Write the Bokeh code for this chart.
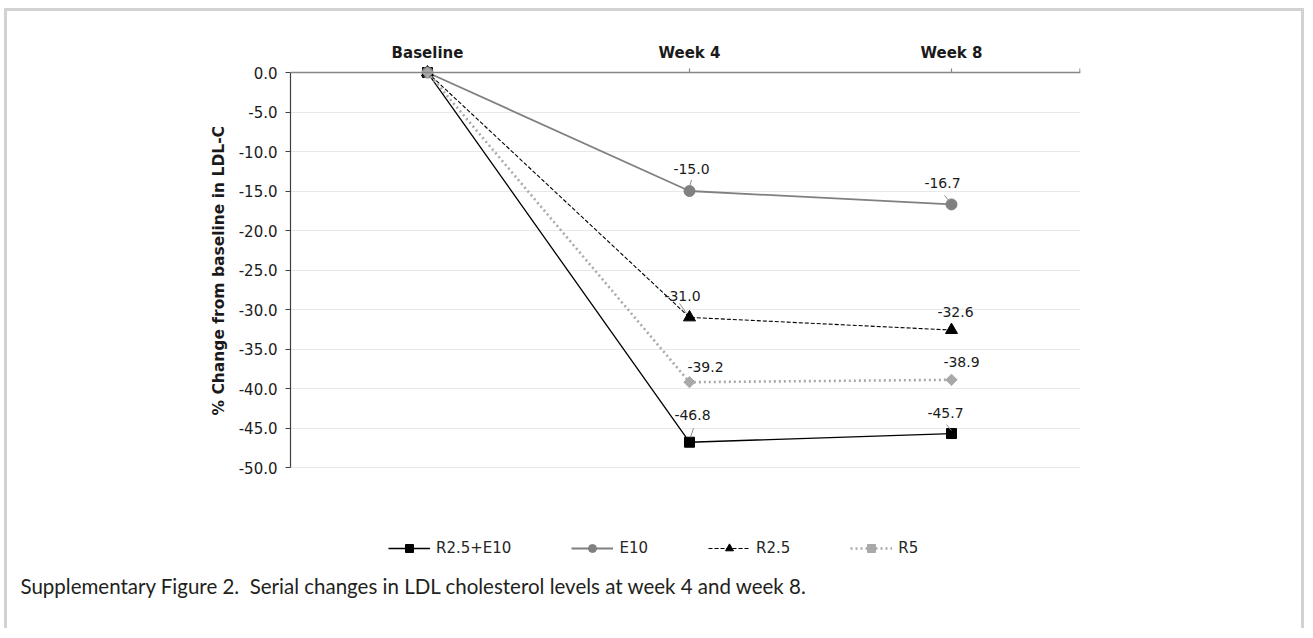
import math
from bokeh.plotting import figure
from bokeh.models import (Range1d, FixedTicker, NumeralTickFormatter, Span, Legend,
                          LegendItem, Title)
from bokeh.core.properties import value
from bokeh.embed import file_html
from bokeh.resources import INLINE

# ---------------- data ----------------
timepoints = ["Baseline", "Week 4", "Week 8"]
series_names = ["R2.5+E10", "E10", "R2.5", "R5"]
r25e10 = [0.0, -46.8, -45.7]
e10 = [0.0, -15.0, -16.7]
r25 = [0.0, -31.0, -32.6]
r5 = [0.0, -39.2, -38.9]
y_ticks = [0.0, -5.0, -10.0, -15.0, -20.0, -25.0, -30.0, -35.0, -40.0, -45.0, -50.0]
y_title = "% Change from baseline in LDL-C"
caption = "Supplementary Figure 2.  Serial changes in LDL cholesterol levels at week 4 and week 8."

# ---------------- styles ----------------
FONT = "DejaVu Sans"
xs = list(range(len(timepoints)))
X0, X1 = -0.5229, 2.4924
PPU_Y = 7.9
Y1 = 1.14
W, H = 1300, 620
LEFT, TOP = 283, 52
FRAME_W = 790
FRAME_H = 504
Y0 = Y1 - FRAME_H / PPU_Y
PPU_X = FRAME_W / (X1 - X0)

styles = {
    "R2.5+E10": dict(color="#000000", width=1.3, dash="solid", marker="square", size=10, angle=0),
    "E10": dict(color="#808080", width=1.8, dash="solid", marker="circle", size=11, angle=0),
    "R2.5": dict(color="#000000", width=1.1, dash="4 2", marker="triangle", size=12, angle=0),
    "R5": dict(color="#a9a9a9", width=2.6, dash="2 3", marker="square", size=8, angle=math.pi / 4),
}
label_offsets = {
    "R2.5+E10": [(3, -27), (-6, -21)],
    "E10": [(2, -22), (-9, -21)],
    "R2.5": [(-7, -21), (4, -18)],
    "R5": [(16, -15), (10, -18)],
}
leaders = {
    "R2.5+E10": [(4, -14, 1, -5), (-5, -9, 0, -3)],
    "E10": [(2, -11, 0, -4), (-7, -9, -2, -3)],
    "R2.5": [(-10, -14, -3, -4), None],
    "R5": [None, None],
}
values = {"R2.5+E10": r25e10, "E10": e10, "R2.5": r25, "R5": r5}

border = "3px solid #d2d2d2"
p = figure(width=W, height=H, output_backend="svg", toolbar_location=None,
           x_range=Range1d(X0, X1), y_range=Range1d(Y0, Y1),
           x_axis_location="above", min_border_left=LEFT, min_border_right=W - LEFT - FRAME_W,
           min_border_top=TOP, min_border_bottom=H - TOP - FRAME_H,
           styles={"border-top": border, "border-left": border, "border-right": border,
                   "margin-left": "4px", "margin-top": "8px"})
p.outline_line_alpha = 0
p.background_fill_color = "white"
p.border_fill_color = "white"

ya = p.yaxis[0]
ya.ticker = FixedTicker(ticks=y_ticks)
ya.formatter = NumeralTickFormatter(format="0.0")
ya.bounds = (min(y_ticks), max(y_ticks))
ya.axis_line_color = "#404040"
ya.axis_line_width = 1.2
ya.major_tick_line_color = "#404040"
ya.major_tick_out = 5
ya.major_tick_in = 0
ya.minor_tick_line_alpha = 0
ya.major_label_text_font = FONT
ya.major_label_text_font_size = "15px"
ya.major_label_text_color = "#1a1a1a"
ya.major_label_standoff = 8

# y-axis title, placed along the 0 .. -50 span
p.add_layout(Title(text=y_title, align="left", offset=152, standoff=15,
                   text_font=FONT, text_font_style="bold", text_font_size="15.5px",
                   text_color="#1a1a1a"), "left")

xa = p.xaxis[0]
xa.ticker = FixedTicker(ticks=xs)
xa.major_label_overrides = {i: t for i, t in zip(xs, timepoints)}
xa.axis_line_alpha = 0
xa.major_tick_out = 0
xa.major_tick_in = 0
xa.minor_tick_line_alpha = 0
xa.major_label_text_font = FONT
xa.major_label_text_font_style = "bold"
xa.major_label_text_font_size = "15px"
xa.major_label_text_color = "#1a1a1a"
xa.major_label_standoff = 2

p.xgrid.grid_line_alpha = 0
p.ygrid.ticker = FixedTicker(ticks=y_ticks[1:])
p.ygrid.grid_line_color = "#d0d0d0"
p.ygrid.grid_line_dash = "1 1"
p.ygrid.grid_line_width = 1

p.add_layout(Span(location=0, dimension="width", line_color="#868686", line_width=1.3))
tick_x = xs[1:] + [X1 - 0.002]
p.segment(x0=tick_x, x1=tick_x, y0=[0] * len(tick_x), y1=[4 / PPU_Y] * len(tick_x),
          line_color="#868686", line_width=1.2)

items = []
for name in series_names:
    st = styles[name]
    vals = values[name]
    ln = p.line(xs, vals, line_color=st["color"], line_width=st["width"], line_dash=st["dash"])
    sc = p.scatter(xs, vals, marker=st["marker"], size=st["size"], angle=st["angle"],
                   fill_color=st["color"], line_color=st["color"])
    items.append(LegendItem(label=name, renderers=[ln, sc]))

for name in series_names:
    vals = values[name]
    for k, ld in enumerate(leaders[name]):
        if ld is None:
            continue
        i = k + 1
        sx, sy, ex, ey = ld
        p.segment(x0=[xs[i] + sx / PPU_X], y0=[vals[i] - sy / PPU_Y],
                  x1=[xs[i] + ex / PPU_X], y1=[vals[i] - ey / PPU_Y],
                  line_color="#8c8c8c", line_width=1)

for name in series_names:
    vals = values[name]
    for k, (dx, dy) in enumerate(label_offsets[name]):
        i = k + 1
        p.text(x=[xs[i]], y=[vals[i]], text=["%.1f" % vals[i]], x_offset=dx, y_offset=dy,
               text_font=value(FONT), text_font_size="14px", text_color="#1a1a1a",
               text_align="center", text_baseline="middle")

legend = Legend(items=items, orientation="horizontal", location=(93, 4),
                glyph_width=42, glyph_height=20, label_standoff=6, spacing=60, padding=5,
                margin=0,
                label_text_font=FONT, label_text_font_size="15px", label_text_color="#262626",
                border_line_alpha=0, background_fill_alpha=0)
p.add_layout(legend, "center")

p.add_layout(Title(text=caption.replace("  ", "\u00a0 "), align="left", offset=-270, standoff=8,
                   text_font="Lato", text_font_size="20.5px", text_font_style="normal",
                   text_color="#231f20"), "below")

open("out.html", "w").write(file_html(p, INLINE))
